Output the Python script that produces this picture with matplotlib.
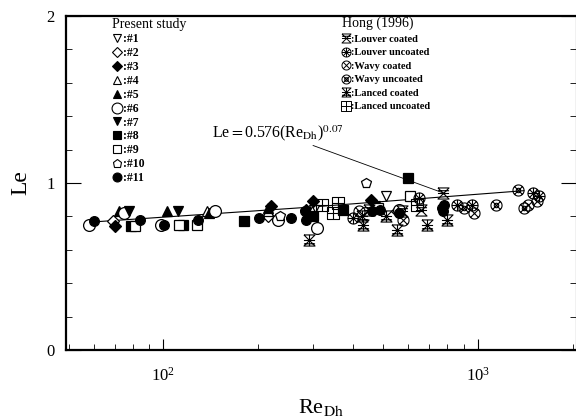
import numpy as np
import matplotlib
matplotlib.use("Agg")
import matplotlib.pyplot as plt
from matplotlib.path import Path
from matplotlib.lines import Line2D
from matplotlib.ticker import MultipleLocator, LogLocator, NullFormatter

plt.rcParams['font.family'] = ['Liberation Serif', 'DejaVu Serif']
plt.rcParams['mathtext.fontset'] = 'stix'

# ---------------- data ----------------
present_labels = [":#1", ":#2", ":#3", ":#4", ":#5", ":#6", ":#7", ":#8", ":#9", ":#10", ":#11"]
p1_re = [510, 302];              p1_le = [0.92, 0.84]
p2_re = [69, 554, 215];          p2_le = [0.77, 0.83, 0.80]
p3_re = [70, 220, 299, 458, 285]; p3_le = [0.74, 0.86, 0.89, 0.90, 0.84]
p4_re = [138, 215, 297];         p4_le = [0.83, 0.83, 0.83]
p5_re = [72, 103, 140, 215];     p5_le = [0.83, 0.83, 0.82, 0.85]
p6_re = [58, 75, 98, 146, 232, 308, 560]; p6_le = [0.75, 0.82, 0.75, 0.83, 0.78, 0.73, 0.84]
p7_re = [77.5, 111, 470];        p7_le = [0.83, 0.83, 0.86]
p8_re = [78.6, 115, 181, 300, 372, 600]; p8_le = [0.74, 0.75, 0.77, 0.80, 0.84, 1.03]
p9_re = [81, 112, 128, 480, 606]; p9_le = [0.74, 0.75, 0.75, 0.85, 0.92]
p10_re = [441, 235];             p10_le = [1.00, 0.80]
p11_re = [60, 84, 100.7, 129, 202, 255, 284, 282, 460, 488, 560, 770, 774, 780]
p11_le = [0.77, 0.78, 0.75, 0.78, 0.79, 0.79, 0.78, 0.83, 0.83, 0.84, 0.82, 0.85, 0.83, 0.87]

hong_labels = [":Louver coated", ":Louver uncoated", ":Wavy coated",
               ":Wavy uncoated", ":Lanced coated", ":Lanced uncoated"]
lc_re = [450, 574, 659, 773];    lc_le = [0.84, 0.83, 0.84, 0.94]
lu_re = [400, 650, 857, 956, 1495, 1560]; lu_le = [0.79, 0.91, 0.87, 0.87, 0.94, 0.92]
wc_re = [420, 577, 975, 1440, 1540]; wc_le = [0.83, 0.78, 0.82, 0.87, 0.89]
wu_re = [905, 1140, 1337, 1400]; wu_le = [0.85, 0.87, 0.96, 0.85]
nc_re = [290, 428, 431, 510, 553, 688, 800]; nc_le = [0.66, 0.80, 0.75, 0.80, 0.72, 0.75, 0.78]
nu_re = [320, 347, 360, 642];    nu_le = [0.87, 0.82, 0.88, 0.87]

fit_re = [60, 290, 1400]
fit_le = [0.767, 0.855, 0.954]

x_ticks = [100, 1000]
y_ticks = [0, 1, 2]

# ---------------- custom marker paths ----------------
def circle_pts(r=1.0, n=36):
    t = np.linspace(0, 2 * np.pi, n + 1)
    return list(zip(r * np.cos(t), r * np.sin(t)))

def build(parts):
    verts, codes = [], []
    for pts, closed in parts:
        verts.extend(pts)
        codes.extend([Path.MOVETO] + [Path.LINETO] * (len(pts) - 1))
        if closed:
            codes[-1] = Path.CLOSEPOLY
    return Path(verts, codes)

d = 0.707
xlines = [([(-d, -d), (d, d)], False), ([(-d, d), (d, -d)], False)]
plus = [([(-1, 0), (1, 0)], False), ([(0, -1), (0, 1)], False)]
m_wavy_c = build([(circle_pts(), True)] + xlines)
m_louver_u = build([(circle_pts(), True)] + xlines + plus)
m_wavy_u = build([(circle_pts(), True)] + xlines + [(circle_pts(0.4), True)])
hour = [([(-1, 1), (1, 1), (-1, -1), (1, -1), (-1, 1)], False)]
m_louver_c = build(hour + [([(-1, 0), (1, 0)], False), ([(-1, 0.5), (1, 0.5)], False)])
m_lanced_c = build(hour + [([(0, -1), (0, 1)], False), ([(-1, 0), (1, 0)], False),
                           ([(-1, -0.6), (1, -0.6)], False)])
m_lanced_u = build([([(-1, -1), (1, -1), (1, 1), (-1, 1), (-1, -1)], True)] + plus)

# ---------------- figure ----------------
fig = plt.figure(figsize=(5.76, 4.2), dpi=100)
ax = fig.add_axes([66 / 576, 1 - 350 / 420, 1 - 66 / 576, (350 - 16) / 420])
ax.set_xscale('log')
ax.set_xlim(49, 2050)
ax.set_ylim(0, 2)

ax.plot(fit_re, fit_le, color='black', lw=0.8, zorder=1)

ms = 7
present = [
    (p1_re, p1_le, 'v', 'none'),
    (p2_re, p2_le, 'D', 'none'),
    (p3_re, p3_le, 'D', 'black'),
    (p4_re, p4_le, '^', 'none'),
    (p5_re, p5_le, '^', 'black'),
    (p6_re, p6_le, 'o', 'none'),
    (p7_re, p7_le, 'v', 'black'),
    (p8_re, p8_le, 's', 'black'),
    (p9_re, p9_le, 's', 'none'),
    (p10_re, p10_le, 'p', 'none'),
    (p11_re, p11_le, 'o', 'black'),
]
p_handles = []
for (xr, yl, mk, fc), lab in zip(present, present_labels):
    size = ms + 1.5 if mk == 'o' and fc == 'none' else ms
    if mk == 'D':
        size = ms - 1
    ax.plot(xr, yl, ls='none', marker=mk, mfc=fc if fc != 'none' else 'white',
            mec='black', mew=0.9, ms=size, zorder=3)
    p_handles.append(Line2D([], [], ls='none', marker=mk, mfc=fc, mec='black',
                            mew=0.8, ms=size * 0.92, label=lab))

hong = [
    (lc_re, lc_le, m_louver_c),
    (lu_re, lu_le, m_louver_u),
    (wc_re, wc_le, m_wavy_c),
    (wu_re, wu_le, m_wavy_u),
    (nc_re, nc_le, m_lanced_c),
    (nu_re, nu_le, m_lanced_u),
]
h_handles = []
for (xr, yl, mk), lab in zip(hong, hong_labels):
    ax.plot(xr, yl, ls='none', marker=mk, mfc='none', mec='black', mew=0.8,
            ms=ms + 1, zorder=4)
    h_handles.append(Line2D([], [], ls='none', marker=mk, mfc='none', mec='black',
                            mew=0.7, ms=6.5, label=lab))

# equation annotation
ax.annotate(r"Le$=$0.576(Re$_{\mathrm{Dh}}$)$^{0.07}$", xy=(790, 0.935), xytext=(143, 1.275),
            fontsize=11.5, ha='left', va='baseline',
            arrowprops=dict(arrowstyle='-', lw=0.6, color='black', shrinkA=0, shrinkB=0))

# legends
leg1 = ax.legend(handles=p_handles, title="Present study", loc='upper left',
                 bbox_to_anchor=(0.090, 0.993), frameon=False, borderpad=0, borderaxespad=0,
                 handlelength=0.8, handletextpad=0.15, labelspacing=0.16,
                 prop={'size': 8.5, 'weight': 'bold'}, title_fontsize=10, alignment='left')
ax.add_artist(leg1)
leg2 = ax.legend(handles=h_handles, title="Hong (1996)", loc='upper left',
                 bbox_to_anchor=(0.541, 0.997), frameon=False, borderpad=0, borderaxespad=0,
                 handlelength=0.7, handletextpad=0.2, labelspacing=0.4,
                 prop={'size': 7.5, 'weight': 'bold'}, title_fontsize=10, alignment='left')

# axes styling
ax.set_xticks(x_ticks)
ax.xaxis.set_minor_locator(LogLocator(base=10, subs=np.arange(2, 10)))
ax.xaxis.set_minor_formatter(NullFormatter())
ax.set_yticks(y_ticks)
ax.set_yticklabels([str(v) for v in y_ticks])
ax.yaxis.set_minor_locator(MultipleLocator(0.2))
ax.tick_params(axis='both', which='major', direction='in', length=8, width=0.8,
               labelsize=12)
ax.tick_params(axis='x', which='major', pad=12)
ax.tick_params(axis='y', which='major', pad=8, length=11)
ax.tick_params(axis='both', which='minor', direction='in', length=4, width=0.6)
ax.tick_params(right=True, which='both')
for s in ['left', 'bottom', 'top']:
    ax.spines[s].set_linewidth(1.6)
ax.spines['right'].set_linewidth(0.8)

ax.set_xlabel(r"Re$_{\mathrm{Dh}}$", fontsize=16, labelpad=9)
ax.set_ylabel("Le", fontsize=17, labelpad=11)

fig.savefig("out.png", dpi=100)
